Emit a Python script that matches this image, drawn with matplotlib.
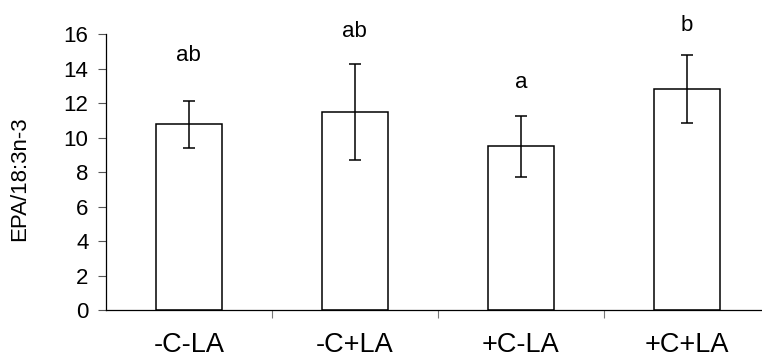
import matplotlib.pyplot as plt

groups = ["-C-LA", "-C+LA", "+C-LA", "+C+LA"]
means = [10.78, 11.5, 9.5, 12.85]
errors = [1.35, 2.8, 1.75, 1.98]
letters = ["ab", "ab", "a", "b"]
letter_y = [14.8, 16.2, 13.2, 16.5]

plt.rcParams['font.family'] = ['Liberation Sans', 'DejaVu Sans']

fig = plt.figure(figsize=(7.62, 3.61), dpi=100)
ax = fig.add_axes([0.139, 0.1413, 0.861, 0.7632])

x = range(len(groups))
ax.bar(x, means, width=0.4, color="white", edgecolor="black", linewidth=1.1)
ax.errorbar(x, means, yerr=errors, fmt="none", ecolor="black",
            elinewidth=1.1, capsize=4.5, capthick=1.1)

for i, (lab, ly) in enumerate(zip(letters, letter_y)):
    ax.text(i, ly, lab, ha="center", va="center", fontsize=16, clip_on=False)

ax.set_xlim(-0.5, 3.452)
ax.set_ylim(0, 16)
ax.set_yticks(range(0, 17, 2))
ax.tick_params(axis="y", labelsize=16, length=5.5, width=0.8, color="#555555", pad=7)

# category boundaries as ticks, labels on minor ticks at bar centres
ax.set_xticks([0.5, 1.5, 2.5])
ax.set_xticklabels([])
ax.set_xticks(list(x), minor=True)
ax.set_xticklabels(groups, minor=True)
ax.tick_params(axis="x", which="major", length=5.5, width=0.8, color="#777777")
ax.tick_params(axis="x", which="minor", length=0, labelsize=19.5, pad=16)

ax.set_ylabel("EPA/18:3n-3", fontsize=16)
ax.yaxis.set_label_coords(-0.116, 0.477)

for s in ["top", "right"]:
    ax.spines[s].set_visible(False)
for s in ["left", "bottom"]:
    ax.spines[s].set_linewidth(0.9)

fig.savefig("out.png", dpi=100)
